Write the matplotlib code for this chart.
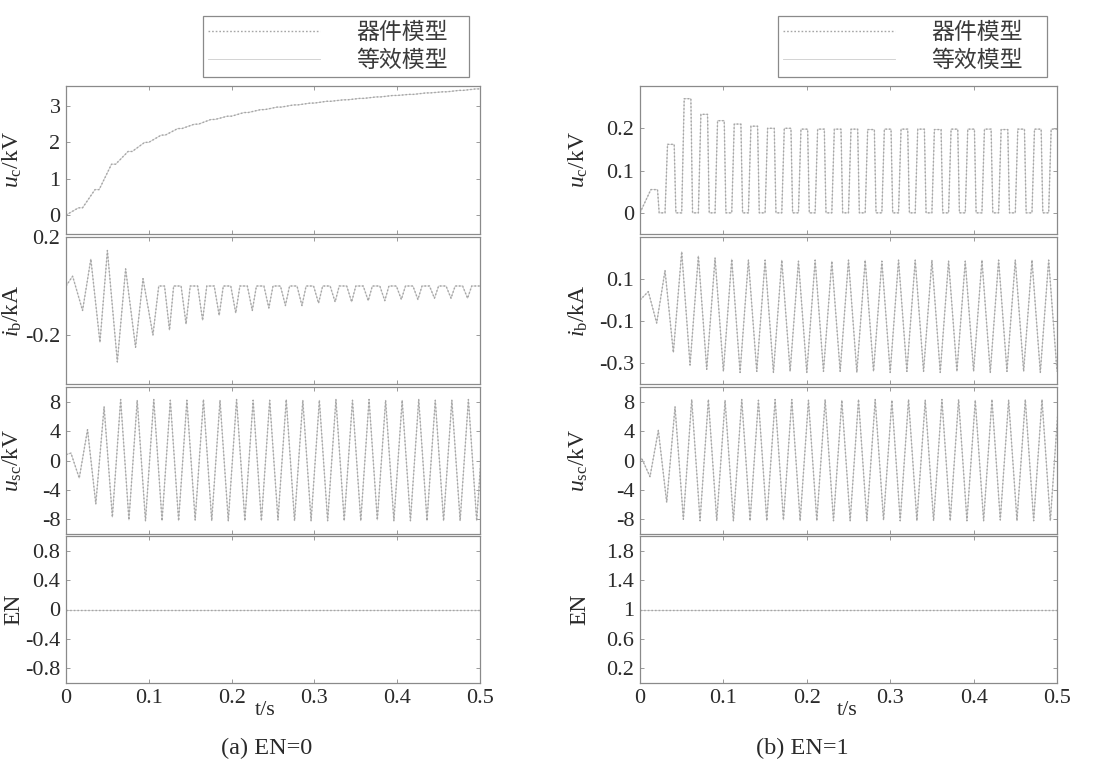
import numpy as np
import matplotlib
matplotlib.use('Agg')
import matplotlib.pyplot as plt
from matplotlib.lines import Line2D

plt.rcParams['font.family'] = ['Liberation Serif', 'Noto Sans CJK SC']
plt.rcParams['mathtext.fontset'] = 'custom'
plt.rcParams['mathtext.rm'] = 'Liberation Serif'
plt.rcParams['mathtext.it'] = 'Liberation Serif:italic'
plt.rcParams['axes.unicode_minus'] = False

W, H = 1099, 764
PERIOD = 0.02
T_END = 0.5

# ---------------- (a) EN=0 ----------------
# capacitor voltage, value at the start of every 20 ms cycle (kV)
uc0_steps = [0, 0.2, 0.7, 1.4, 1.75, 2.0, 2.2, 2.38, 2.5, 2.63, 2.72, 2.82, 2.9,
             2.97, 3.03, 3.08, 3.13, 3.17, 3.21, 3.25, 3.29, 3.32, 3.36, 3.39,
             3.43, 3.47]
# branch current, start-up swing (s, kA)
ib0_t_start = [0, 0.008, 0.02, 0.03, 0.041, 0.05, 0.062, 0.072, 0.084, 0.093, 0.105, 0.112]
ib0_v_start = [0, 0.04, -0.10, 0.11, -0.23, 0.145, -0.31, 0.07, -0.25, 0.03, -0.20, 0]
# branch current, depth of the dip in each later cycle (kA)
ib0_dip = [-0.18, -0.155, -0.14, -0.12, -0.11, -0.10, -0.09, -0.08, -0.08, -0.07,
           -0.065, -0.065, -0.06, -0.06, -0.055, -0.055, -0.05, -0.05, -0.05]
# submodule voltage, peaks and troughs of every cycle (kV)
usc0_peak = [1.0, 4.2, 7.3, 8.3, 8.2, 8.3, 8.2, 8.2, 8.3, 8.2, 8.3, 8.2, 8.2,
             8.3, 8.2, 8.2, 8.3, 8.2, 8.3, 8.2, 8.2, 8.3, 8.2, 8.2, 8.3, 8.2]
usc0_trough = [-2.4, -5.9, -7.7, -8.1, -8.2, -8.2, -8.2, -8.1, -8.2, -8.2, -8.2,
               -8.2, -8.1, -8.2, -8.2, -8.2, -8.2, -8.2, -8.1, -8.2, -8.2, -8.2,
               -8.2, -8.2, -8.2]
usc0_start = 0.8
en0 = 0

# ---------------- (b) EN=1 ----------------
# capacitor voltage, plateau of each charging pulse (kV)
uc1_top = [0.055, 0.162, 0.27, 0.233, 0.218, 0.21, 0.205, 0.2, 0.2, 0.198, 0.198,
           0.198, 0.198, 0.197, 0.198, 0.198, 0.198, 0.197, 0.198, 0.198, 0.198,
           0.197, 0.198, 0.198, 0.198]
# branch current, peaks and troughs (kA)
ib1_peak = [0.04, 0.14, 0.23, 0.21, 0.2, 0.195, 0.19, 0.19, 0.19, 0.185, 0.19,
            0.185, 0.19, 0.19, 0.185, 0.19, 0.19, 0.19, 0.185, 0.185, 0.19, 0.19,
            0.19, 0.19, 0.19]
ib1_trough = [-0.11, -0.25, -0.31, -0.33, -0.34, -0.345, -0.34, -0.345, -0.34,
              -0.345, -0.34, -0.34, -0.345, -0.34, -0.345, -0.34, -0.34, -0.345,
              -0.34, -0.34, -0.345, -0.34, -0.34, -0.345, -0.34]
# submodule voltage, peaks and troughs (kV)
usc1_peak = [0.3, 4.1, 7.3, 8.3, 8.3, 8.2, 8.3, 8.2, 8.3, 8.3, 8.2, 8.3, 8.2,
             8.3, 8.3, 8.2, 8.3, 8.2, 8.3, 8.3, 8.2, 8.3, 8.2, 8.3, 8.3, 8.2]
usc1_trough = [-2.2, -5.7, -8.0, -8.2, -8.2, -8.2, -8.2, -8.2, -8.1, -8.2, -8.2,
               -8.2, -8.2, -8.2, -8.1, -8.2, -8.2, -8.2, -8.2, -8.2, -8.2, -8.1,
               -8.2, -8.2, -8.2]
usc1_start = 0.0
en1 = 1

legend_labels = ['器件模型', '等效模型']
ylabels = ['$u_\\mathrm{c}$/kV', '$i_\\mathrm{b}$/kA', '$u_\\mathrm{sc}$/kV', 'EN']
xticks = [0, 0.1, 0.2, 0.3, 0.4, 0.5]
xticklabels = ['0', '0.1', '0.2', '0.3', '0.4', '0.5']


def staircase(steps):
    t, v = [], []
    for k in range(len(steps) - 1):
        t0 = PERIOD * k
        t += [t0, t0 + 0.015]
        v += [steps[k], steps[k + 1]]
    t.append(PERIOD * (len(steps) - 1))
    v.append(steps[-1])
    return t, v


def dipped(t_start, v_start, dips, first):
    t, v = list(t_start), list(v_start)
    for k, d in enumerate(dips):
        tc = first + PERIOD * k
        t += [tc - 0.006, tc, tc + 0.005]
        v += [0, d, 0]
    t.append(T_END)
    v.append(0)
    return t, v


def swing(start, peaks, troughs, t_peak):
    t, v = [0.0], [start]
    for k in range(len(peaks)):
        t.append(t_peak + PERIOD * k)
        v.append(peaks[k])
        if k < len(troughs):
            t.append(t_peak + PERIOD * k + PERIOD / 2)
            v.append(troughs[k])
    return t, v


def pulses(tops, t_rise):
    t, v = [0.0], [0.0]
    for k, top in enumerate(tops):
        t0 = t_rise + PERIOD * k
        if k:
            t.append(t0)
            v.append(0)
        t += [t0 + 0.003, t0 + 0.011, t0 + 0.013]
        v += [top, top, 0]
    return t, v


col_a = [
    staircase(uc0_steps),
    dipped(ib0_t_start, ib0_v_start, ib0_dip, 0.125),
    swing(usc0_start, usc0_peak, usc0_trough, 0.006),
    ([0, T_END], [en0, en0]),
]
col_b = [
    pulses(uc1_top, 0.01),
    swing(0.0, ib1_peak, ib1_trough, 0.01),
    swing(usc1_start, usc1_peak, usc1_trough, 0.002),
    ([0, T_END], [en1, en1]),
]

ylims_a = [(-0.52, 3.55), (-0.4, 0.2), (-10, 10), (-1, 1)]
yticks_a = [([0, 1, 2, 3], ['0', '1', '2', '3']),
            ([-0.2, 0.2], ['-0.2', '0.2']),
            ([-8, -4, 0, 4, 8], ['-8', '-4', '0', '4', '8']),
            ([-0.8, -0.4, 0, 0.4, 0.8], ['-0.8', '-0.4', '0', '0.4', '0.8'])]
ylims_b = [(-0.05, 0.3), (-0.4, 0.3), (-10, 10), (0, 2)]
yticks_b = [([0, 0.1, 0.2], ['0', '0.1', '0.2']),
            ([-0.3, -0.1, 0.1], ['-0.3', '-0.1', '0.1']),
            ([-8, -4, 0, 4, 8], ['-8', '-4', '0', '4', '8']),
            ([0.2, 0.6, 1, 1.4, 1.8], ['0.2', '0.6', '1', '1.4', '1.8'])]

rows = [(86, 234), (237, 384), (387, 534), (536, 683)]
frame_gray = '#8a8a8a'
text_col = '#2a2a2a'
dev_style = dict(color='#a6a6a6', lw=1.0, ls=(0, (1.2, 1.4)))
eq_style = dict(color='#cccccc', lw=0.6, ls='-')

fig = plt.figure(figsize=(W / 100, H / 100), dpi=100)


def draw_column(x0, x1, series, ylims, yticks, ylabel_x, legend_box, xlabel_x, caption, cap_x):
    axes = []
    for i, (top, bot) in enumerate(rows):
        ax = fig.add_axes([x0 / W, 1 - bot / H, (x1 - x0) / W, (bot - top) / H])
        t, v = series[i]
        ax.plot(t, v, **eq_style)
        ax.plot(t, v, **dev_style)
        ax.set_xlim(0, T_END)
        ax.set_ylim(*ylims[i])
        ax.set_yticks(yticks[i][0])
        ax.set_yticklabels(yticks[i][1])
        ax.set_xticks(xticks)
        for s in ax.spines.values():
            s.set_color(frame_gray)
            s.set_linewidth(0.9)
        ax.tick_params(direction='in', length=3, width=0.6, color=frame_gray,
                       top=True, right=True, labelsize=16, labelcolor=text_col,
                       pad=4)
        if i < 3:
            ax.tick_params(labelbottom=False)
        else:
            ax.set_xticklabels(xticklabels)
            ax.set_xlabel('t/s', fontsize=16, color=text_col)
            ax.xaxis.set_label_coords(xlabel_x, -0.125)
        ax.set_ylabel(ylabels[i], fontsize=17, color=text_col)
        ax.yaxis.set_label_coords((ylabel_x - x0) / (x1 - x0), 0.5)
        axes.append(ax)

    lx0, ly0, lx1, ly1 = legend_box
    handles = [Line2D([], [], **dev_style), Line2D([], [], **eq_style)]
    leg = axes[0].legend(handles, legend_labels, loc='center',
                         bbox_to_anchor=(lx0 / W, 1 - ly1 / H, (lx1 - lx0) / W, (ly1 - ly0) / H),
                         bbox_transform=fig.transFigure, mode='expand',
                         prop={'family': ['Noto Sans CJK SC', 'DejaVu Sans'], 'size': 16.5},
                         handlelength=4.9, handletextpad=1.55, borderpad=0.2,
                         labelspacing=0.25, fancybox=False, framealpha=1)
    leg.get_frame().set_edgecolor(frame_gray)
    leg.get_frame().set_linewidth(0.9)
    for txt in leg.get_texts():
        txt.set_color('#3a3a3a')
    fig.text(cap_x / W, 1 - 748 / H, caption, ha='center', va='center',
             fontsize=17.5, color=text_col)


draw_column(66, 480, col_a, ylims_a, yticks_a, 24, (192, 15, 480, 78), 0.48, '(a) EN=0', 267)
draw_column(640, 1057, col_b, ylims_b, yticks_b, 590, (767, 15, 1058, 78), 0.496, '(b) EN=1', 802)

fig.savefig('out.png', dpi=100, facecolor='white')
